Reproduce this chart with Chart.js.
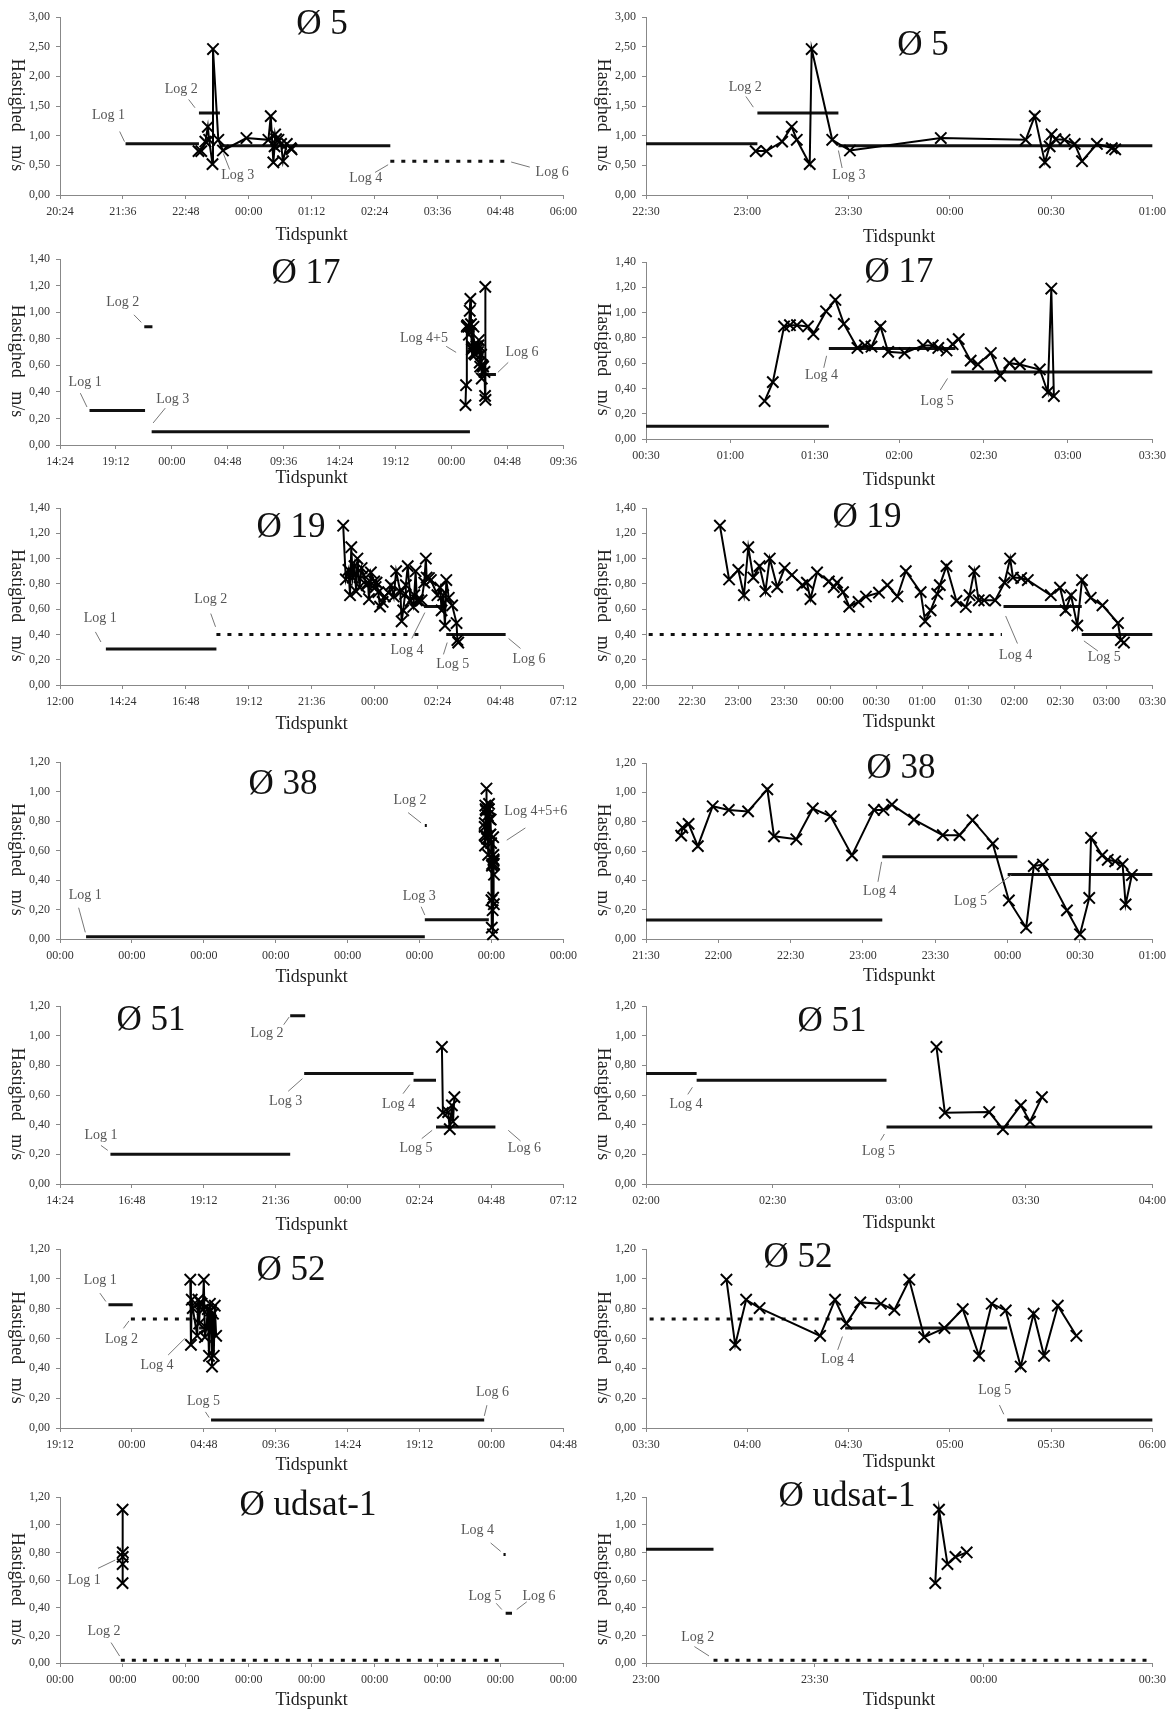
<!DOCTYPE html>
<html><head><meta charset="utf-8">
<script src="https://cdn.jsdelivr.net/npm/chart.js@4/dist/chart.umd.min.js"></script>
<style>
html,body{margin:0;padding:0;background:#fff;}
#page{position:relative;width:1174px;height:1711px;overflow:hidden;background:#fff;}
canvas{position:absolute;}
.ttl{position:absolute;font-family:'Liberation Serif','Times New Roman',serif;font-size:35px;line-height:1;color:#111;white-space:nowrap;transform:translate(-50%,-50%);}
</style></head>
<body><div id="page"></div>
<script>
// ---------- DATA (time = "day HH:MM[:SS]", speed = m/s) ----------
const TITLES = ["Ø 5","Ø 17","Ø 19","Ø 38","Ø 51","Ø 52","Ø udsat-1"];
const Y_MAX  = [3.0, 1.4, 1.4, 1.2, 1.2, 1.2, 1.2];
const Y_STEP = [0.5, 0.2, 0.2, 0.2, 0.2, 0.2, 0.2];
// x-axis ranges: [left overview panel, right detail panel]
const X_FROM = [["0 20:24","0 22:30"],["0 14:24","2 00:30"],["0 12:00","0 22:00"],["0 00:00","5 21:30"],["0 14:24","1 02:00"],["0 19:12","1 03:30"],["0 00:00","0 23:00"]];
const X_TO   = [["1 06:00","1 01:00"],["2 09:36","2 03:30"],["1 07:12","1 03:30"],["7 00:00","6 01:00"],["1 07:12","1 04:00"],["2 04:48","1 06:00"],["8 00:00","1 00:30"]];
const X_STEP = [[72,30],[288,30],[144,30],[1440,30],[144,30],[288,30],[1440,30]];

const O5_TIME = ["0 23:02:30","0 23:05:40","0 23:10:20","0 23:13:10","0 23:14:40","0 23:18:30","0 23:19:05","0 23:25:10","0 23:30:25","0 23:57:20","1 00:22:30","1 00:25:10","1 00:28:10","1 00:29:35","1 00:30:10","1 00:31:20","1 00:34:00","1 00:37:00","1 00:39:10","1 00:43:35","1 00:48:00","1 00:49:00"];
const O5_SPEED = [0.74,0.74,0.90,1.15,0.93,0.52,2.46,0.93,0.75,0.96,0.93,1.33,0.55,0.82,1.02,0.94,0.93,0.86,0.57,0.86,0.79,0.77];
const O5_LOG_FROM = ["0 21:39","0 23:03","0 23:27","1 02:42"];
const O5_LOG_TO   = ["0 23:03","0 23:27","1 02:42","1 04:56"];
const O5_LOG_SPEED = [0.865,1.38,0.83,0.57];

const O17_TIME = ["2 01:12:10","2 01:15:05","2 01:19:05","2 01:21:10","2 01:23:40","2 01:27:35","2 01:29:30","2 01:34:00","2 01:37:20","2 01:40:20","2 01:45:10","2 01:47:50","2 01:50:10","2 01:53:20","2 01:56:05","2 02:01:55","2 02:08:30","2 02:11:55","2 02:13:55","2 02:16:50","2 02:19:00","2 02:21:10","2 02:25:25","2 02:28:00","2 02:32:35","2 02:35:55","2 02:39:10","2 02:42:55","2 02:50:00","2 02:52:50","2 02:54:05","2 02:55:00"];
const O17_SPEED = [0.30,0.45,0.89,0.90,0.90,0.89,0.83,1.01,1.10,0.91,0.72,0.74,0.73,0.89,0.69,0.68,0.74,0.74,0.72,0.70,0.75,0.79,0.62,0.59,0.68,0.50,0.60,0.59,0.55,0.37,1.19,0.34];
const O17_LOG_FROM = ["0 16:56","0 21:38","0 22:16","2 01:35","2 02:18:30"];
const O17_LOG_TO   = ["0 21:42","0 22:20","2 01:35","2 02:20","2 03:49"];
const O17_LOG_SPEED = [0.26,0.89,0.10,0.715,0.53];

const O19_TIME = ["0 22:48:10","0 22:54:10","0 23:00:10","0 23:03:50","0 23:06:40","0 23:09:55","0 23:14:00","0 23:17:50","0 23:20:40","0 23:25:30","0 23:30:20","0 23:35:05","0 23:41:55","0 23:44:50","0 23:47:10","0 23:51:30","0 23:59:10","1 00:02:25","1 00:04:30","1 00:08:25","1 00:12:30","1 00:18:30","1 00:23:20","1 00:31:50","1 00:37:20","1 00:43:50","1 00:49:20","1 00:59:00","1 01:01:55","1 01:05:30","1 01:09:50","1 01:11:30","1 01:15:50","1 01:22:20","1 01:28:25","1 01:30:50","1 01:33:55","1 01:36:50","1 01:40:25","1 01:47:35","1 01:53:40","1 01:57:20","1 01:59:10","1 02:04:30","1 02:08:50","1 02:23:50","1 02:29:50","1 02:33:25","1 02:37:00","1 02:41:05","1 02:44:10","1 02:49:50","1 02:57:30","1 03:07:35","1 03:09:30","1 03:11:30"];
const O19_SPEED = [1.26,0.835,0.91,0.71,1.09,0.85,0.94,0.74,1.00,0.775,0.925,0.87,0.79,0.81,0.68,0.89,0.82,0.775,0.81,0.735,0.62,0.657,0.70,0.73,0.79,0.70,0.90,0.735,0.504,0.59,0.72,0.79,0.94,0.665,0.617,0.71,0.90,0.67,0.67,0.67,0.81,1.00,0.85,0.846,0.83,0.71,0.77,0.59,0.71,0.47,0.83,0.69,0.63,0.49,0.355,0.336];
const O19_LOG_FROM = ["0 13:45","0 17:58","1 01:53","1 02:44"];
const O19_LOG_TO   = ["0 17:58","1 01:52","1 02:44","1 05:00"];
const O19_LOG_SPEED = [0.285,0.40,0.62,0.40];

const O38_TIME = ["5 21:44:35","5 21:45:05","5 21:47:40","5 21:51:30","5 21:57:40","5 22:04:20","5 22:12:20","5 22:20:20","5 22:23:05","5 22:32:20","5 22:39:10","5 22:46:35","5 22:55:25","5 23:04:35","5 23:08:30","5 23:12:00","5 23:21:10","5 23:33:05","5 23:40:00","5 23:45:25","5 23:53:50","6 00:00:30","6 00:07:40","6 00:10:50","6 00:14:35","6 00:24:35","6 00:30:00","6 00:33:50","6 00:34:35","6 00:39:10","6 00:41:30","6 00:44:35","6 00:47:40","6 00:48:55","6 00:51:30"];
const O38_SPEED = [0.705,0.76,0.785,0.633,0.905,0.88,0.87,1.02,0.70,0.68,0.89,0.837,0.57,0.88,0.88,0.916,0.814,0.708,0.708,0.81,0.65,0.263,0.077,0.497,0.508,0.195,0.032,0.28,0.69,0.57,0.54,0.53,0.51,0.236,0.436];
const O38_LOG_FROM = ["0 08:42","5 01:46","5 01:46","5 23:08","6 00:00"];
const O38_LOG_TO   = ["5 01:46","5 02:26","5 23:08","6 00:04","6 01:10"];
const O38_LOG_SPEED = [0.015,0.77,0.13,0.56,0.44];

const O51_TIME = ["1 03:08:50","1 03:10:50","1 03:21:20","1 03:24:35","1 03:28:50","1 03:31:00","1 03:33:50"];
const O51_SPEED = [0.924,0.48,0.485,0.37,0.53,0.42,0.586];
const O51_LOG_FROM = ["0 16:05","0 22:05","0 22:33","1 02:12","1 02:57"];
const O51_LOG_TO   = ["0 22:05","0 22:35","1 02:12","1 02:57","1 04:56"];
const O51_LOG_SPEED = [0.20,1.135,0.745,0.70,0.385];

const O52_TIME = ["1 03:53:50","1 03:56:25","1 03:59:40","1 04:03:40","1 04:21:35","1 04:26:00","1 04:29:20","1 04:33:30","1 04:39:35","1 04:43:35","1 04:48:00","1 04:52:25","1 04:58:25","1 05:03:50","1 05:08:40","1 05:12:25","1 05:16:35","1 05:21:00","1 05:24:50","1 05:27:55","1 05:32:00","1 05:37:30"];
const O52_SPEED = [0.994,0.557,0.86,0.804,0.618,0.86,0.70,0.842,0.833,0.792,0.994,0.609,0.67,0.797,0.484,0.833,0.788,0.412,0.766,0.484,0.82,0.618];
const O52_LOG_FROM = ["0 22:26","0 23:56","1 04:29","1 05:17"];
const O52_LOG_TO   = ["1 00:03","1 04:29","1 05:17","1 23:31"];
const O52_LOG_SPEED = [0.826,0.73,0.67,0.054];

const OU_TIME = ["0 23:51:25","0 23:52:05","0 23:53:35","0 23:55:00","0 23:57:00"];
const OU_SPEED = [0.578,1.11,0.716,0.768,0.80];
const OU_LOG_FROM = ["0 22:40","0 23:12","7 01:10","7 02:00"];
const OU_LOG_TO   = ["0 23:12","7 00:00","7 02:00","7 04:25"];
const OU_LOG_SPEED = [0.824,0.02,0.785,0.36];

// ---------- helpers ----------
function tm(s){ const parts = s.split(' '); const d = Number(parts[0]); const p = parts[1].split(':').map(Number); return d*1440 + p[0]*60 + p[1] + (p[2]||0)/60; }
function hhmm(v){ const m = ((Math.round(v)%1440)+1440)%1440; return String(Math.floor(m/60)).padStart(2,'0')+':'+String(m%60).padStart(2,'0'); }
const FONT = "'Liberation Serif','Times New Roman',Times,serif";
Chart.defaults.font.family = FONT;
Chart.defaults.animation = false;

const STATIONS = [
  {time:O5_TIME, speed:O5_SPEED, from:O5_LOG_FROM, to:O5_LOG_TO, lv:O5_LOG_SPEED, dashed:[3]},
  {time:O17_TIME, speed:O17_SPEED, from:O17_LOG_FROM, to:O17_LOG_TO, lv:O17_LOG_SPEED, dashed:[]},
  {time:O19_TIME, speed:O19_SPEED, from:O19_LOG_FROM, to:O19_LOG_TO, lv:O19_LOG_SPEED, dashed:[1]},
  {time:O38_TIME, speed:O38_SPEED, from:O38_LOG_FROM, to:O38_LOG_TO, lv:O38_LOG_SPEED, dashed:[]},
  {time:O51_TIME, speed:O51_SPEED, from:O51_LOG_FROM, to:O51_LOG_TO, lv:O51_LOG_SPEED, dashed:[]},
  {time:O52_TIME, speed:O52_SPEED, from:O52_LOG_FROM, to:O52_LOG_TO, lv:O52_LOG_SPEED, dashed:[1]},
  {time:OU_TIME, speed:OU_SPEED, from:OU_LOG_FROM, to:OU_LOG_TO, lv:OU_LOG_SPEED, dashed:[1]}
];

// ---------- layout (page pixels) & annotation placement (data coords) ----------
const PANELS = [
 {row:0,side:0,T:17,B:195,tx:322,ty:24,xgap:40,notes:[["Log 1",1279.5,1.34,1292.3,1.07,1297.8,0.90],["Log 2",1362.7,1.775,1371.2,1.61,1378.5,1.47],["Log 3",1427.5,0.33,1410.9,0.70,1418.1,0.43],["Log 4",1573.9,0.275,1584.5,0.38,1599.5,0.51],["Log 6",1787.2,0.39,1740.3,0.556,1761.6,0.47]]},
 {row:0,side:1,T:17,B:195,tx:923,ty:45,xgap:42,notes:[["Log 2",1379.4,1.82,1379.6,1.66,1381.8,1.48],["Log 3",1410.1,0.33,1407.0,0.75,1408.1,0.455]]},
 {row:1,side:0,T:259,B:445,tx:306,ty:273,xgap:33,notes:[["Log 1",993.4,0.474,968.7,0.39,1002.9,0.286],["Log 2",1187.5,1.074,1244.6,0.98,1282.6,0.923],["Log 3",1444.4,0.341,1406.3,0.278,1343.5,0.166],["Log 4+5",2738.4,0.80,2852.6,0.743,2904,0.697],["Log 6",3242.7,0.70,3172.3,0.622,3119,0.547]]},
 {row:1,side:1,T:262,B:439,tx:899,ty:272,xgap:41,notes:[["Log 4",2972.4,0.505,2974.2,0.658,2973.2,0.563],["Log 5",3013.5,0.295,3017.2,0.479,3014.6,0.387]]},
 {row:2,side:0,T:508,B:685,tx:291,ty:527,xgap:39,notes:[["Log 1",812,0.525,801,0.42,813.7,0.34],["Log 2",1065,0.675,1065,0.565,1076,0.46],["Log 4",1514,0.276,1525.2,0.368,1555,0.573],["Log 5",1619,0.163,1597.6,0.242,1606.2,0.336],["Log 6",1793.6,0.202,1746.7,0.368,1774,0.289]]},
 {row:2,side:1,T:508,B:685,tx:867,ty:517,xgap:37,notes:[["Log 4",1560.9,0.236,1554.4,0.546,1562.1,0.328],["Log 5",1618.7,0.218,1605.4,0.349,1614.6,0.268]]},
 {row:3,side:0,T:762,B:939,tx:283,ty:784,xgap:38,notes:[["Log 1",507,0.298,373,0.212,507,0.045],["Log 2",7008,0.94,6971,0.857,7232,0.787],["Log 3",7195,0.286,7232,0.219,7307,0.162],["Log 4+5+6",9528,0.866,9320,0.753,8947,0.67]]},
 {row:3,side:1,T:763,B:939,tx:901,ty:768,xgap:37,notes:[["Log 4",8586.9,0.322,8587.7,0.526,8586.2,0.39],["Log 5",8624.6,0.254,8641.5,0.436,8632,0.315]]},
 {row:4,side:0,T:1006,B:1184,tx:151,ty:1020,xgap:41,notes:[["Log 1",946,0.328,946,0.26,959.6,0.227],["Log 2",1278.5,1.013,1312,1.074,1323,1.126],["Log 3",1315.8,0.557,1321,0.625,1349.4,0.71],["Log 4",1542,0.535,1551,0.609,1564.5,0.67],["Log 5",1577,0.243,1588.4,0.306,1609.3,0.362],["Log 6",1794,0.238,1761.7,0.362,1786.3,0.29]]},
 {row:4,side:1,T:1006,B:1184,tx:832,ty:1021,xgap:39,notes:[["Log 4",1569.5,0.535,1569.9,0.604,1571,0.652],["Log 5",1615.1,0.222,1615.6,0.294,1616.5,0.337]]},
 {row:5,side:0,T:1249,B:1428,tx:291,ty:1270,xgap:37,notes:[["Log 1",1313.3,0.99,1311.8,0.904,1335.7,0.848],["Log 2",1398.4,0.597,1405.9,0.668,1428.3,0.718],["Log 4",1540.3,0.417,1585.1,0.489,1652.3,0.601],["Log 5",1727,0.179,1734.4,0.108,1749.4,0.07],["Log 6",2884.4,0.242,2862,0.153,2851.5,0.081]]},
 {row:5,side:1,T:1249,B:1428,tx:798,ty:1257,xgap:34,notes:[["Log 4",1706.8,0.461,1708.2,0.613,1706.8,0.524],["Log 5",1753.3,0.251,1754.7,0.154,1756,0.092]]},
 {row:6,side:0,T:1484,B:1663,tx:308,ty:1505,xgap:37,padTop:0,notes:[["Log 1",555,0.60,870,0.685,1263,0.745],["Log 2",1007,0.226,1169,0.148,1365,0.05],["Log 4",9557,0.958,9856,0.869,10086,0.808],["Log 5",9728,0.484,9984,0.432,10112,0.387],["Log 6",10965,0.484,10684,0.443,10453,0.387]]},
 {row:6,side:1,T:1484,B:1663,tx:847,ty:1496,xgap:37,padTop:0,notes:[["Log 2",1389.2,0.186,1388.6,0.119,1391.2,0.051]]}
];

const page = document.getElementById('page');
const SIDE_L = [60, 646], SIDE_R = [567, 1156];
const YW = 58, PADR = 16, XH = 55;

PANELS.forEach((p, idx) => {
  const st = STATIONS[p.row];
  const L = SIDE_L[p.side], R = SIDE_R[p.side];
  const padTop = (p.padTop !== undefined) ? p.padTop : 14;
  const cl = L - YW, ct = p.T - padTop, cw = R + PADR - cl, ch = p.B + XH - ct;
  const cv = document.createElement('canvas');
  cv.width = cw; cv.height = ch;
  cv.style.left = cl + 'px'; cv.style.top = ct + 'px';
  cv.style.width = cw + 'px'; cv.style.height = ch + 'px';
  page.appendChild(cv);

  const datasets = [{
    data: st.time.map((t, i) => ({x: tm(t), y: st.speed[i]})),
    borderColor: '#000', borderWidth: 2, tension: 0, fill: false,
    pointStyle: 'crossRot', pointRadius: 8, pointBorderWidth: 2,
    pointBorderColor: '#000', pointBackgroundColor: 'rgba(0,0,0,0)', clip: false
  }];
  st.from.forEach((f, i) => {
    datasets.push({
      data: [{x: tm(f), y: st.lv[i]}, {x: tm(st.to[i]), y: st.lv[i]}],
      borderColor: '#111', borderWidth: 3, borderCapStyle: 'butt',
      borderDash: st.dashed.includes(i) ? [4, 7] : [],
      pointRadius: 0, fill: false
    });
  });

  const textPlugin = {
    id: 'txt' + idx,
    afterDraw(chart) {
      const ctx = chart.ctx, ca = chart.chartArea, xs = chart.scales.x, ys = chart.scales.y;
      ctx.save();
      ctx.fillStyle = '#222';
      ctx.font = '18px ' + FONT;
      ctx.textAlign = 'center'; ctx.textBaseline = 'middle';
      ctx.translate(ca.left - 43, (ca.top + ca.bottom) / 2 + 9);
      ctx.rotate(Math.PI / 2);
      ctx.fillText('Hastighed   m/s', 0, 0);
      ctx.restore();
      ctx.save();
      ctx.fillStyle = '#222';
      ctx.font = '18px ' + FONT;
      ctx.textAlign = 'center'; ctx.textBaseline = 'middle';
      ctx.fillText('Tidspunkt', (ca.left + ca.right) / 2, ca.bottom + p.xgap);
      ctx.font = '14px ' + FONT;
      ctx.fillStyle = '#555'; ctx.strokeStyle = '#777'; ctx.lineWidth = 1;
      p.notes.forEach(n => {
        ctx.beginPath();
        ctx.moveTo(xs.getPixelForValue(n[3]), ys.getPixelForValue(n[4]));
        ctx.lineTo(xs.getPixelForValue(n[5]), ys.getPixelForValue(n[6]));
        ctx.stroke();
        ctx.fillText(n[0], xs.getPixelForValue(n[1]), ys.getPixelForValue(n[2]));
      });
      ctx.restore();
    }
  };

  new Chart(cv, {
    type: 'line',
    data: {datasets},
    options: {
      responsive: false, animation: false, devicePixelRatio: 1,
      layout: {padding: {top: padTop, right: PADR, left: 0, bottom: 0}},
      plugins: {legend: {display: false}, tooltip: {enabled: false}, title: {display: false}},
      events: [],
      scales: {
        x: {
          type: 'linear', position: 'bottom',
          min: tm(X_FROM[p.row][p.side]), max: tm(X_TO[p.row][p.side]),
          afterFit(s) { s.height = XH; },
          ticks: {stepSize: X_STEP[p.row][p.side], autoSkip: false, maxRotation: 0, minRotation: 0,
                  padding: 6, color: '#333', font: {size: 12, family: FONT}, callback: v => hhmm(v)},
          grid: {drawOnChartArea: false, drawTicks: true, tickLength: 4, color: '#888', lineWidth: 1},
          border: {display: true, color: '#888', width: 1}
        },
        y: {
          type: 'linear', position: 'left', min: 0, max: Y_MAX[p.row],
          afterFit(s) { s.width = YW; },
          ticks: {stepSize: Y_STEP[p.row], padding: 6, color: '#333', font: {size: 12, family: FONT},
                  callback: v => Number(v).toFixed(2).replace('.', ',')},
          grid: {drawOnChartArea: false, drawTicks: true, tickLength: 4, color: '#888', lineWidth: 1},
          border: {display: true, color: '#888', width: 1}
        }
      }
    },
    plugins: [textPlugin]
  });

  const t = document.createElement('div');
  t.className = 'ttl';
  t.textContent = TITLES[p.row];
  t.style.left = p.tx + 'px';
  t.style.top = (p.ty - 2) + 'px';
  page.appendChild(t);
});
</script>
</body></html>
